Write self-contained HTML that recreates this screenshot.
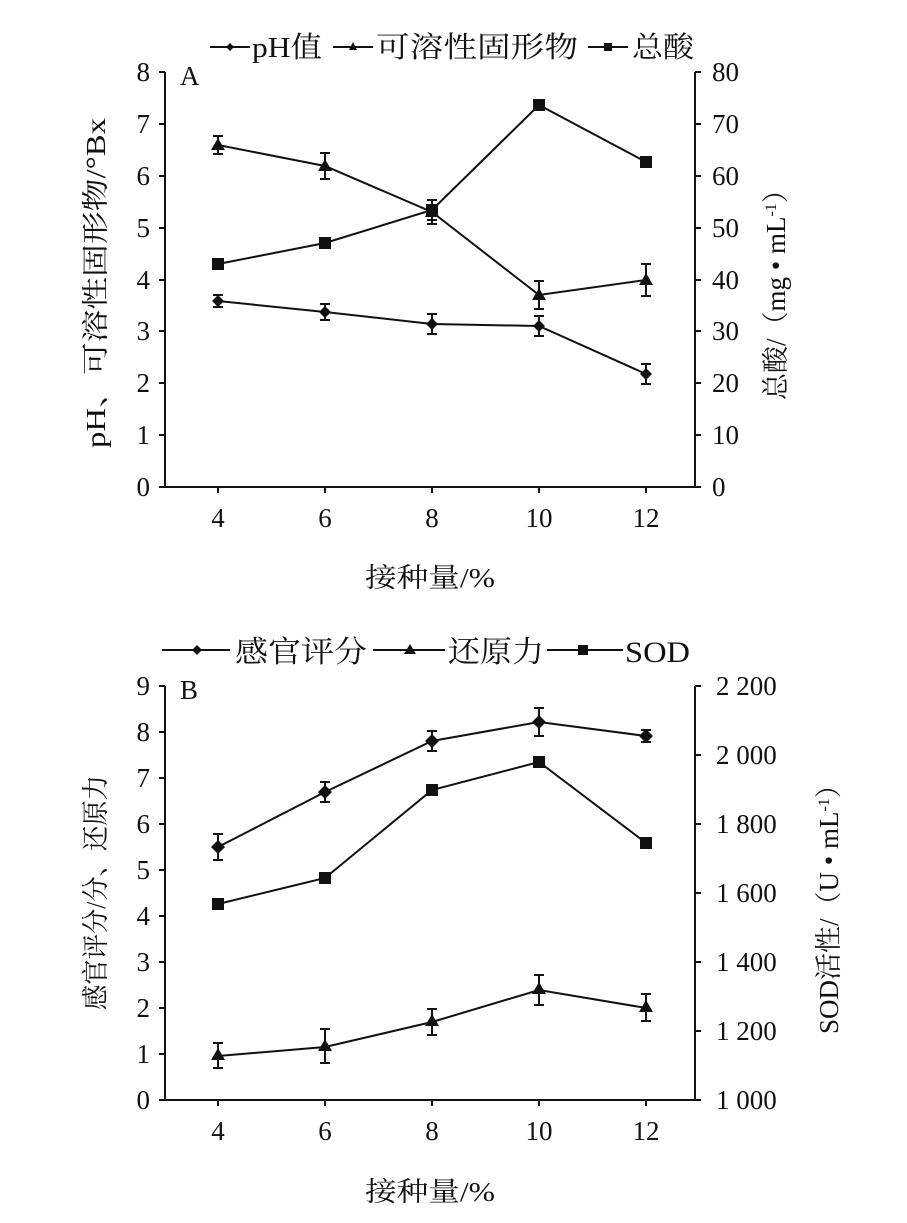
<!DOCTYPE html>
<html><head><meta charset="utf-8"><style>
html,body{margin:0;padding:0;background:#fff;}
svg{display:block;}
text{font-family:"Liberation Serif","Noto Serif CJK SC",serif;fill:#111;}
</style></head><body>
<svg width="907" height="1223" viewBox="0 0 907 1223" xmlns="http://www.w3.org/2000/svg">
<g stroke="#111" stroke-width="2" fill="none">
<path d="M165,72 V487 H695 V72"/>
<path d="M159,72H165M159,124H165M159,176H165M159,228H165M159,280H165M159,331H165M159,383H165M159,435H165M159,487H165"/>
<path d="M695,72H701M695,124H701M695,176H701M695,228H701M695,280H701M695,331H701M695,383H701M695,435H701M695,487H701"/>
<path d="M218,487V493M325,487V493M432,487V493M539,487V493M646,487V493"/>
<path d="M165,686 V1100 H695 V686"/>
<path d="M159,686H165M159,732H165M159,778H165M159,824H165M159,870H165M159,916H165M159,962H165M159,1008H165M159,1054H165M159,1100H165"/>
<path d="M695,686H701M695,755H701M695,824H701M695,893H701M695,962H701M695,1031H701M695,1100H701"/>
<path d="M218,1100V1106M325,1100V1106M432,1100V1106M539,1100V1106M646,1100V1106"/>
</g>
<g font-size="27">
<g text-anchor="end">
<text x="150" y="81">8</text><text x="150" y="133">7</text><text x="150" y="185">6</text><text x="150" y="237">5</text><text x="150" y="289">4</text><text x="150" y="340">3</text><text x="150" y="392">2</text><text x="150" y="444">1</text><text x="150" y="496">0</text>
<text x="150" y="695">9</text><text x="150" y="741">8</text><text x="150" y="787">7</text><text x="150" y="833">6</text><text x="150" y="879">5</text><text x="150" y="925">4</text><text x="150" y="971">3</text><text x="150" y="1017">2</text><text x="150" y="1063">1</text><text x="150" y="1109">0</text>
</g>
<text x="712" y="81">80</text><text x="712" y="133">70</text><text x="712" y="185">60</text><text x="712" y="237">50</text><text x="712" y="289">40</text><text x="712" y="340">30</text><text x="712" y="392">20</text><text x="712" y="444">10</text><text x="712" y="496">0</text>
<text x="716" y="695">2 200</text><text x="716" y="764">2 000</text><text x="716" y="833">1 800</text><text x="716" y="902">1 600</text><text x="716" y="971">1 400</text><text x="716" y="1040">1 200</text><text x="716" y="1109">1 000</text>
<g text-anchor="middle">
<text x="218" y="527">4</text><text x="325" y="527">6</text><text x="432" y="527">8</text><text x="539" y="527">10</text><text x="646" y="527">12</text>
<text x="218" y="1140">4</text><text x="325" y="1140">6</text><text x="432" y="1140">8</text><text x="539" y="1140">10</text><text x="646" y="1140">12</text>
</g>
<text x="180" y="85">A</text>
<text x="180" y="699">B</text>
<text x="365" y="587" textLength="130" lengthAdjust="spacingAndGlyphs">接种量/%</text>
<text x="365" y="1201" textLength="130" lengthAdjust="spacingAndGlyphs">接种量/%</text>
<text transform="translate(105,448) rotate(-90)" textLength="330" lengthAdjust="spacingAndGlyphs">pH、可溶性固形物/°Bx</text>
<text transform="translate(785,400) rotate(-90)">总酸/（mg • mL<tspan dy="-9" font-size="16">-1</tspan><tspan dy="9">）</tspan></text>
<text transform="translate(105,1010) rotate(-90)" textLength="235" lengthAdjust="spacingAndGlyphs">感官评分/分、还原力</text>
<text transform="translate(838,1034) rotate(-90)">SOD活性/（U • mL<tspan dy="-9" font-size="16">-1</tspan><tspan dy="9">）</tspan></text>
</g>
<g stroke="#111" stroke-width="2"><path d="M210,47H250M333,47H373M588,47H628"/></g>
<g fill="#111">
<path d="M230,43L234,47L230,51L226,47Z"/>
<path d="M353,42L357,50H349Z"/>
<rect x="604" y="43" width="8" height="8"/>
</g>
<g font-size="29"><text x="252" y="57" textLength="70" lengthAdjust="spacingAndGlyphs">pH值</text><text x="376" y="57" textLength="202" lengthAdjust="spacingAndGlyphs">可溶性固形物</text><text x="632" y="57" textLength="62" lengthAdjust="spacingAndGlyphs">总酸</text></g>
<g stroke="#111" stroke-width="2"><path d="M162,650H230M373,650H445M547,650H623"/></g>
<g fill="#111">
<path d="M197,645L202,650L197,655L192,650Z"/>
<path d="M410,644L416,654H404Z"/>
<rect x="578" y="645" width="10" height="10"/>
</g>
<g font-size="30"><text x="235" y="662" textLength="132" lengthAdjust="spacingAndGlyphs">感官评分</text><text x="448" y="662" textLength="96" lengthAdjust="spacingAndGlyphs">还原力</text><text x="625" y="662" textLength="65" lengthAdjust="spacingAndGlyphs">SOD</text></g>
<g stroke="#111" stroke-width="2" fill="none">
<polyline points="218,301 325,312 432,324 539,326 646,374"/>
<polyline points="218,145 325,166 432,212 539,295 646,280"/>
<polyline points="218,264 325,243 432,210 539,105 646,162"/>
<path d="M218,295V307M213,295H223M213,307H223 M325,304V320M320,304H330M320,320H330 M432,314V334M427,314H437M427,334H437 M539,316V336M534,316H544M534,336H544 M646,364V384M641,364H651M641,384H651"/>
<path d="M218,136V154M213,136H223M213,154H223 M325,153V179M320,153H330M320,179H330 M432,200V224M427,200H437M427,224H437 M539,281V309M534,281H544M534,309H544 M646,264V296M641,264H651M641,296H651"/>
<path d="M218,259V269M213,259H223M213,269H223 M432,200V220M427,200H437M427,220H437 M539,100V110M534,100H544M534,110H544"/>
</g>
<g fill="#111">
<path d="M218,295l6,6l-6,6l-6,-6Z M325,306l6,6l-6,6l-6,-6Z M432,318l6,6l-6,6l-6,-6Z M539,320l6,6l-6,6l-6,-6Z M646,368l6,6l-6,6l-6,-6Z"/>
<path d="M218,138l7,12h-14Z M325,159l7,12h-14Z M432,205l7,12h-14Z M539,288l7,12h-14Z M646,273l7,12h-14Z"/>
<rect x="212" y="258" width="12" height="12"/><rect x="319" y="237" width="12" height="12"/><rect x="426" y="204" width="12" height="12"/><rect x="533" y="99" width="12" height="12"/><rect x="640" y="156" width="12" height="12"/>
</g>
<g stroke="#111" stroke-width="2" fill="none">
<polyline points="218,847 325,792 432,741 539,722 646,736"/>
<polyline points="218,1056 325,1047 432,1022 539,990 646,1008"/>
<polyline points="218,904 325,878 432,790 539,762 646,843"/>
<path d="M218,834V860M213,834H223M213,860H223 M325,782V802M320,782H330M320,802H330 M432,731V751M427,731H437M427,751H437 M539,708V736M534,708H544M534,736H544 M646,730V742M641,730H651M641,742H651"/>
<path d="M218,1043V1068M213,1043H223M213,1068H223 M325,1029V1063M320,1029H330M320,1063H330 M432,1009V1035M427,1009H437M427,1035H437 M539,975V1005M534,975H544M534,1005H544 M646,994V1021M641,994H651M641,1021H651"/>
</g>
<g fill="#111">
<path d="M218,840l7,7l-7,7l-7,-7Z M325,785l7,7l-7,7l-7,-7Z M432,734l7,7l-7,7l-7,-7Z M539,715l7,7l-7,7l-7,-7Z M646,729l7,7l-7,7l-7,-7Z"/>
<path d="M218,1048l7,12h-14Z M325,1039l7,12h-14Z M432,1014l7,12h-14Z M539,982l7,12h-14Z M646,1000l7,12h-14Z"/>
<rect x="212" y="898" width="12" height="12"/><rect x="319" y="872" width="12" height="12"/><rect x="426" y="784" width="12" height="12"/><rect x="533" y="756" width="12" height="12"/><rect x="640" y="837" width="12" height="12"/>
</g>
</svg>
</body></html>
